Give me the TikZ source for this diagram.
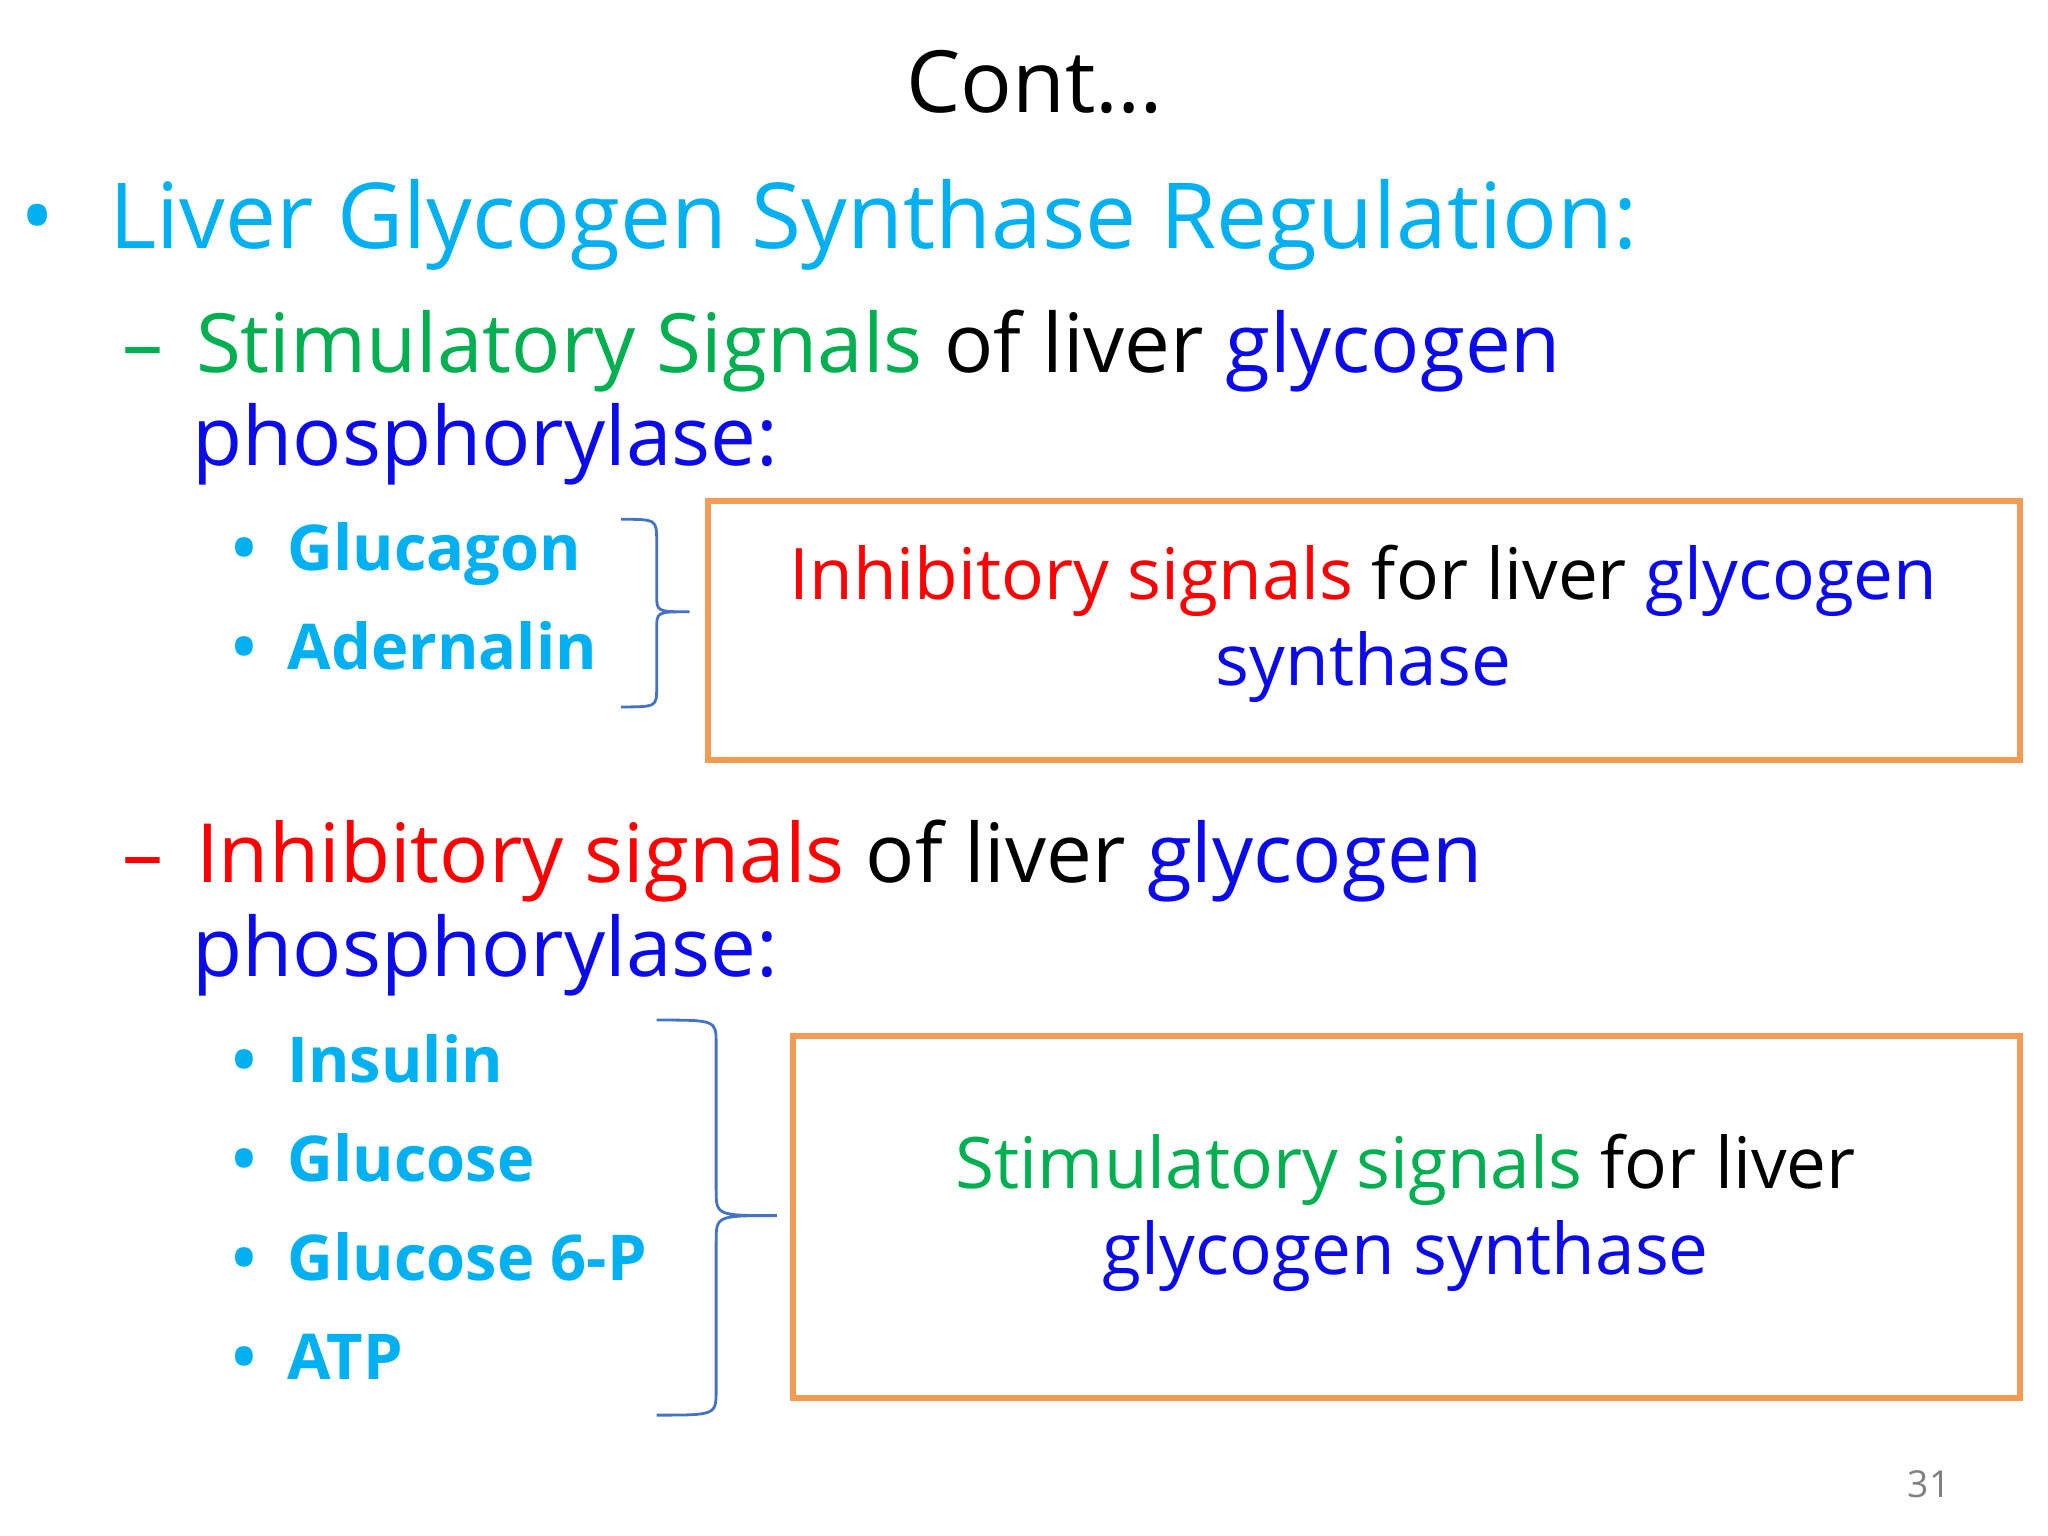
\documentclass[tikz,border=0pt]{standalone}
\usepackage{fontspec}
\setmainfont{Open Sans}
\definecolor{cy}{RGB}{0,176,240}
\definecolor{gr}{RGB}{0,176,80}
\definecolor{bl}{RGB}{10,10,235}
\definecolor{rd}{RGB}{255,0,0}
\definecolor{org}{RGB}{242,155,85}
\definecolor{brc}{RGB}{68,114,196}
\begin{document}
\begin{tikzpicture}[x=0.01cm,y=-0.01cm,
  t/.style={anchor=base west,inner sep=0pt},
  item/.style={t,font=\fontsize{13.6}{17}\selectfont\bfseries,text=cy},
  head/.style={t,font=\fontsize{17.6}{21}\selectfont},
  box/.style={draw=org,line width=1.3pt},
  btxt/.style={align=center,font=\fontsize{15.3}{18.5}\selectfont,inner sep=0pt},
  brace/.style={draw=brc,line width=0.6pt}]
\useasboundingbox (0,0) rectangle (1550,1162);
\node[font=\fontsize{18.5}{22}\selectfont] (title) at (783,62) {Cont…};
\node[t,font=\fontsize{19.6}{24}\selectfont,text=cy] (main) at (15,188) {•\hspace{0.6em}Liver Glycogen Synthase Regulation:};
\node[head] (s1) at (92,282) {\textcolor{gr}{–}\hspace{0.4em}\textcolor{gr}{Stimulatory Signals} of liver \textcolor{bl}{glycogen}};
\node[head,text=bl] (s1b) at (145,352) {phosphorylase:};
\node[item] (i1) at (175,432) {•\hspace{0.5em}Glucagon};
\node[item] (i2) at (175,507) {•\hspace{0.5em}Adernalin};
\draw[brace] (470,393) .. controls (497,393) .. (497,410) -- (497,450) .. controls (497,463) .. (522,463)
  .. controls (497,463) .. (497,476) -- (497,520) .. controls (497,535) .. (470,535);
\draw[box] (536,379) rectangle (1529,575);
\node[btxt] (b1) at (1032,472) {\textcolor{rd}{Inhibitory signals} for liver \textcolor{bl}{glycogen}\\\textcolor{bl}{synthase}};
\node[head] (s2) at (92,668) {\textcolor{rd}{–}\hspace{0.4em}\textcolor{rd}{Inhibitory signals} of liver \textcolor{bl}{glycogen}};
\node[head,text=bl] (s2b) at (145,739) {phosphorylase:};
\node[item] (j1) at (175,819) {•\hspace{0.5em}Insulin};
\node[item] (j2) at (175,894) {•\hspace{0.5em}Glucose};
\node[item] (j3) at (175,969) {•\hspace{0.5em}Glucose 6-P};
\node[item] (j4) at (175,1044) {•\hspace{0.5em}ATP};
\draw[brace] (497,772) .. controls (542,772) .. (542,790) -- (542,900) .. controls (542,920) .. (588,920)
  .. controls (542,920) .. (542,940) -- (542,1052) .. controls (542,1071) .. (497,1071);
\draw[box] (600,784) rectangle (1529,1058);
\node[btxt] (b2) at (1064,918) {\textcolor{gr}{Stimulatory signals} for liver\\\textcolor{bl}{glycogen synthase}};
\node[font=\fontsize{8}{10}\selectfont,text=gray] (pg) at (1460,1123) {31};
\end{tikzpicture}
\end{document}
